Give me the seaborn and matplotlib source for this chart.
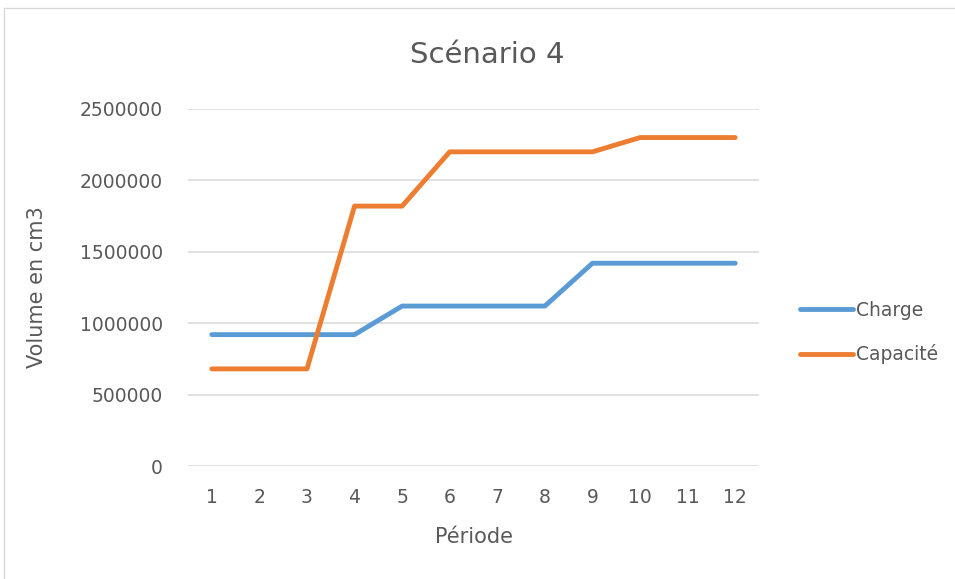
import matplotlib
matplotlib.use("Agg")
import matplotlib.pyplot as plt
import seaborn as sns
import pandas as pd
from matplotlib.patches import Rectangle
from matplotlib.lines import Line2D

# Données du scénario 4
periodes = [1, 2, 3, 4, 5, 6, 7, 8, 9, 10, 11, 12]
charge = [920000, 920000, 920000, 920000, 1120000, 1120000, 1120000, 1120000,
          1420000, 1420000, 1420000, 1420000]
capacite = [680000, 680000, 680000, 1820000, 1820000, 2200000, 2200000, 2200000,
            2200000, 2300000, 2300000, 2300000]
series = ["Charge", "Capacité"]
couleurs = ["#5B9BD5", "#ED7D31"]
y_ticks = [0, 500000, 1000000, 1500000, 2000000, 2500000]

df = pd.DataFrame({
    "Période": periodes * 2,
    "Volume": charge + capacite,
    "Série": [series[0]] * len(periodes) + [series[1]] * len(periodes),
})

sns.set_theme(style="white")
plt.rcParams["font.family"] = ["DejaVu Sans"]
texte = "#595959"

fig = plt.figure(figsize=(9.55, 5.79), dpi=100)
ax = fig.add_axes([188 / 955, 1 - 466 / 579, (759 - 188) / 955, (466 - 109) / 579])

sns.lineplot(data=df, x="Période", y="Volume", hue="Série",
             palette=dict(zip(series, couleurs)), linewidth=3.5, ax=ax,
             legend=False, solid_capstyle="round", solid_joinstyle="round",
             zorder=3)

ax.set_xlim(0.5, 12.5)
ax.set_ylim(0, 2500000)
ax.set_xticks(periodes)
ax.set_xticklabels([str(p) for p in periodes])
ax.set_yticks(y_ticks)
ax.set_yticklabels([str(v) for v in y_ticks])
ax.tick_params(axis="both", length=0, labelsize=13.5, colors=texte)
ax.tick_params(axis="y", pad=18)
ax.tick_params(axis="x", pad=16)
ax.grid(axis="y", color="#D9D9D9", linewidth=1.1, zorder=0)
ax.grid(axis="x", visible=False)
for s in ax.spines.values():
    s.set_visible(False)

ax.set_xlabel("Période", fontsize=15, color=texte, labelpad=14)
ax.set_ylabel("Volume en cm3", fontsize=15, color=texte, labelpad=24)

fig.text(487 / 955, 1 - 55 / 579, "Scénario 4", ha="center", va="center",
         fontsize=21, color=texte)

# Légende à droite
handles = [Line2D([0], [0], color=c, linewidth=3.5, solid_capstyle="round")
           for c in couleurs]
fig.legend(handles, series, loc="center left",
           bbox_to_anchor=(800 / 955, 1 - 332.5 / 579), frameon=False,
           borderpad=0, borderaxespad=0, handlelength=2.8, handletextpad=0.2,
           labelspacing=1.3, fontsize=13.5, labelcolor=texte)

# Cadre de la zone du graphique
fig.patches.append(Rectangle((4 / 955, -0.1), 1.2, 1 - 8 / 579 + 0.1,
                             transform=fig.transFigure, fill=False,
                             edgecolor="#D9D9D9", linewidth=1.0))

fig.savefig("out.png", dpi=100)
